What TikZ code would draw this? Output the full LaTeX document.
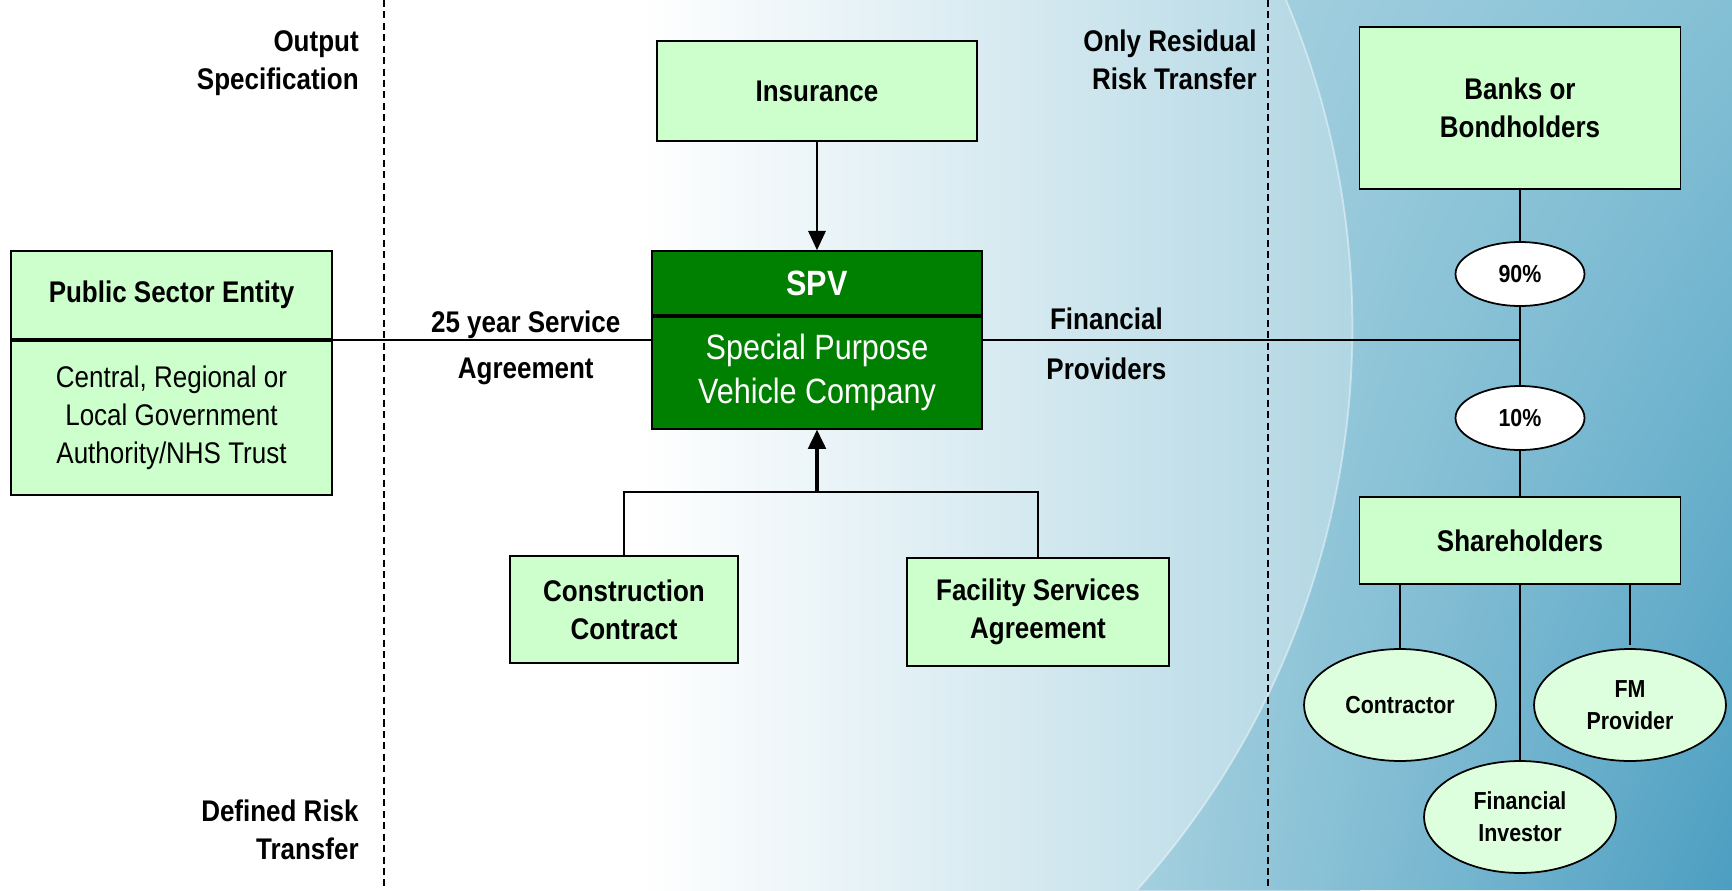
\documentclass[tikz,border=0pt]{standalone}
\usepackage{fontspec}
\setmainfont{Liberation Sans}[FakeStretch=0.87]
\usetikzlibrary{arrows.meta,positioning,shapes.geometric,shadings}

\definecolor{boxgreen}{HTML}{CCFFCC}
\definecolor{ovalgreen}{HTML}{DDFFDD}
\definecolor{spvgreen}{HTML}{008000}
\definecolor{skypale}{HTML}{B0D6E3}
\definecolor{skyedge}{HTML}{AAD3E1}
\definecolor{skytop}{HTML}{84C0D5}
\definecolor{skylow}{HTML}{A4D0DF}
\definecolor{skydeep}{HTML}{4C9EC1}

\newcommand{\boxtext}{\fontsize{17}{21.5}\selectfont}
\newcommand{\spvtext}{\fontsize{20}{25}\selectfont}
\newcommand{\ovaltext}{\fontsize{14}{18.2}\selectfont}

\begin{document}
\begin{tikzpicture}[x=0.02cm,y=-0.02cm,
  box/.style={draw,line width=1pt,fill=boxgreen,align=center,inner sep=0pt,font=\bfseries\boxtext},
  spvbox/.style={draw,line width=1pt,fill=spvgreen,text=white,align=center,inner sep=0pt,minimum width=6.6cm},
  share/.style={ellipse,draw,line width=1pt,fill=white,inner sep=0pt,minimum width=2.58cm,minimum height=1.28cm,font=\bfseries\ovaltext},
  party/.style={share,fill=ovalgreen,align=center,minimum width=3.84cm,minimum height=2.24cm},
  note/.style={font=\bfseries\boxtext,align=right,inner sep=0pt},
  lbl/.style={font=\bfseries\boxtext,inner sep=0pt},
  link/.style={line width=1pt},
  zone/.style={line width=0.8pt,dash pattern=on 4pt off 2.5pt},
  tip/.style={-{Triangle[width=10pt,length=11pt]}}]

% background
\useasboundingbox (0,0) rectangle (1732,890);
\fill[white] (0,0) rectangle (1732,890);
\shade[left color=white,right color=skypale] (640,0) rectangle (1360,890);
\shade[upper left=skyedge,upper right=skytop,lower left=skylow,lower right=skydeep]
  (1286,0) .. controls (1413,300) and (1355,647) .. (1137,890) -- (1732,890) -- (1732,0) -- cycle;
\draw[white,opacity=.45,line width=1pt] (1286,0) .. controls (1413,300) and (1355,647) .. (1137,890);

% risk zones
\draw[zone] (384,0) -- (384,890);
\draw[zone] (1268,0) -- (1268,890);
\node[note,anchor=east] (outspec) at (359,63) {Output\\Specification};
\node[note,anchor=east] (defrisk) at (359,830) {Defined Risk\\Transfer};
\node[note,anchor=east] (resrisk) at (1257,60) {Only Residual\\Risk Transfer};

% public sector side
\node[box,minimum width=6.42cm,minimum height=1.76cm] (pset) at (171.5,295) {Public Sector Entity};
\node[box,font=\boxtext,minimum width=6.42cm,minimum height=3.08cm,below=0pt of pset] (pseb)
  {Central, Regional or\\Local Government\\Authority/NHS Trust};

% special purpose vehicle
\node[spvbox,font=\bfseries\spvtext,minimum height=1.28cm] (spvt) at (817,283) {SPV};
\node[spvbox,font=\spvtext,minimum height=2.24cm,below=0pt of spvt] (spvb) {Special Purpose\\Vehicle Company};
\node[box,minimum width=6.4cm,minimum height=2cm] (ins) at (817,91) {Insurance};
\node[box,minimum width=4.56cm,minimum height=2.14cm] (cons) at (624,609.5) {Construction\\Contract};
\node[box,minimum width=5.24cm,minimum height=2.16cm] (fsa) at (1038,612) {Facility Services\\Agreement};

% funding side
\node[box,minimum width=6.42cm,minimum height=3.24cm] (banks) at (1520,108) {Banks or\\Bondholders};
\node[share] (p90) at (1520,274) {90\%};
\node[share] (p10) at (1520,418) {10\%};
\node[box,minimum width=6.42cm,minimum height=1.74cm] (shr) at (1520,540.5) {Shareholders};
\node[party] (con) at (1400,705) {Contractor};
\node[party] (fmp) at (1630,705) {FM\\Provider};
\node[party] (fin) at (1520,817) {Financial\\Investor};

% links
\draw[link,tip] (ins) -- (spvt);
\coordinate (join) at (817,492);
\draw[link] (cons.north) |- (join);
\draw[link] (fsa.north) |- (join);
\draw[link,tip,line width=2pt] (join) -- (spvb);
\draw[link] (pset.south east) -- (pset.south east -| spvb.west)
  node[lbl,pos=0.606,above=0.4pt] (svc) {25 year Service}
  node[lbl,pos=0.606,below=10pt] (agr) {Agreement};
\draw[link] (pset.south east -| spvb.east) -- (pset.south east -| p90)
  node[lbl,pos=0.23,above=5pt] (fin1) {Financial}
  node[lbl,pos=0.23,below=10pt] (fin2) {Providers};
\draw[link] (banks) -- (p90) -- (p10) -- (shr);
\draw[link] (shr.south -| con) -- (con);
\draw[link] (shr.south) -- (fin);
\draw[link,shorten >=2pt] (shr.south -| fmp) -- (fmp);
\end{tikzpicture}
\end{document}
